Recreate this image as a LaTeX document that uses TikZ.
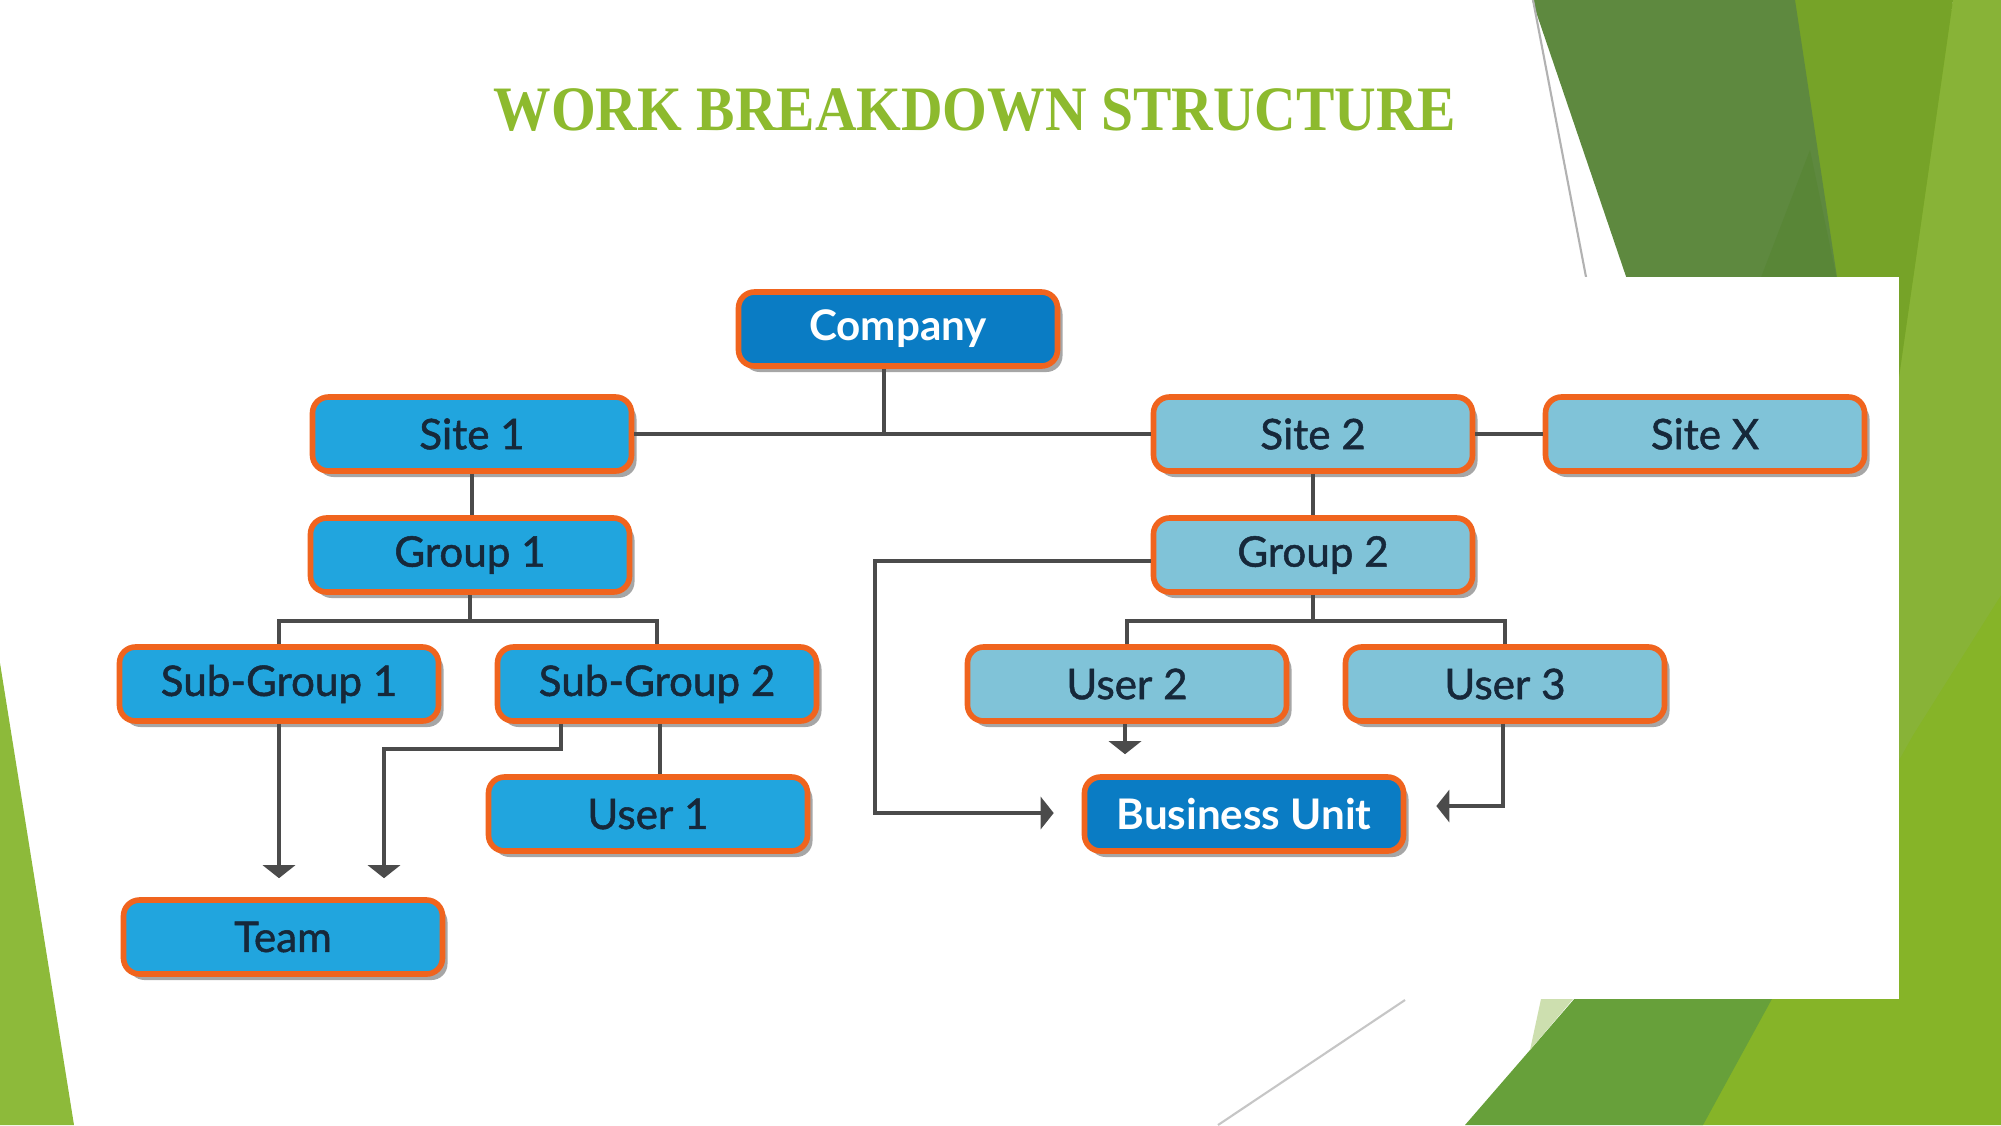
\documentclass[tikz,border=0pt]{standalone}
\usepackage{fontspec}
\setmainfont{Liberation Serif}
\newfontfamily\boxfont{Lato}[FakeBold=1.2]
\newfontfamily\boxfontbold{Lato Bold}
\usetikzlibrary{arrows.meta, positioning, shadows, calc}

\definecolor{wbsdark}{RGB}{10,124,196}
\definecolor{wbsmid}{RGB}{33,165,222}
\definecolor{wbspale}{RGB}{128,195,216}
\definecolor{wbsorange}{RGB}{240,100,30}
\definecolor{wbstext}{RGB}{22,40,58}
\definecolor{wbsline}{RGB}{75,75,75}
\definecolor{titlegreen}{RGB}{141,186,46}
\definecolor{leafdark}{RGB}{94,137,63}
\definecolor{leafdeep}{RGB}{89,134,55}
\definecolor{leafmid}{RGB}{118,163,40}
\definecolor{leafmuted}{RGB}{136,179,55}
\definecolor{leaflight}{RGB}{134,180,40}
\definecolor{leafgrass}{RGB}{103,160,58}
\definecolor{leafpale}{RGB}{205,223,175}
\definecolor{leafleft}{RGB}{141,186,58}

\begin{document}
\begin{tikzpicture}[x=1cm, y=-1cm,
    box/.style={draw=wbsorange, line width=1.6pt, rounded corners=0.16cm, minimum width=3.19cm, minimum height=0.74cm, inner sep=0pt, text=wbstext, font=\boxfont\fontsize{12}{14}\selectfont, drop shadow={shadow xshift=0.05cm, shadow yshift=-0.06cm, opacity=0.35, fill=black}},
    boxdark/.style={box, fill=wbsdark, text=white, font=\boxfontbold\fontsize{12}{14}\selectfont},
    boxmid/.style={box, fill=wbsmid},
    boxpale/.style={box, fill=wbspale},
    link/.style={draw=wbsline, line width=1pt},
    flow/.style={link, -{Triangle[width=0.32cm, length=0.13cm]}}]

\useasboundingbox (0,0) rectangle (20.01,11.25);
\fill[white] (0,0) rectangle (20.01,11.25);

% green facets of the slide
\fill[leaflight] (19.53,0) -- (20.01,0) -- (20.01,11.25) -- (16.9,11.25) -- (17.8,9.5) -- (18.9,3.5) -- cycle;
\fill[leafmuted] (18.99,3.77) -- (19.53,0) -- (20.01,0) -- (20.01,5.95) -- (19.13,7.35) -- (18.99,7.6) -- cycle;
\fill[leafmid] (17.9,0) -- (19.53,0) -- (18.99,3.77) -- (18.5,3.77) -- cycle;
\fill[leafdark] (15.32,0) -- (17.95,0) -- (18.48,3.5) -- (16.51,3.5) -- cycle;
\fill[leafdeep] (18.10,1.50) -- (18.37,2.80) -- (17.60,2.80) -- cycle;
\fill[leafgrass] (14.65,11.25) -- (15.95,9.75) -- (17.85,9.75) -- (17.03,11.25) -- cycle;
\fill[leafpale] (15.41,9.99) -- (15.73,9.99) -- (15.30,10.5) -- cycle;
\fill[leafleft] (0,6.63) -- (0.74,11.25) -- (0,11.25) -- cycle;
\draw[gray!45, line width=0.6pt] (12.18,11.25) -- (14.05,10.0);
\draw[gray!60, line width=0.6pt] (15.33,0) -- (15.86,2.77);

% pasted chart
\fill[white] (1.0,2.77) rectangle (18.99,9.99);

\node[font=\bfseries\fontsize{18}{22}\selectfont, text=titlegreen, xscale=0.91] (title) at (9.75,1.10) {WORK BREAKDOWN STRUCTURE};

\node[boxdark] (company) at (8.98,3.29) {Company};
\node[boxmid] (site1) at (4.72,4.34) {Site 1};
\node[boxpale] (site2) at (13.13,4.34) {Site 2};
\node[boxpale] (sitex) at (17.05,4.34) {Site X};
\node[boxmid] (group1) at (4.70,5.55) {Group 1};
\node[boxpale] (group2) at (13.13,5.55) {Group 2};
\node[boxmid] (subgroup1) at (2.79,6.84) {Sub-Group 1};
\node[boxmid] (subgroup2) at (6.57,6.84) {Sub-Group 2};
\node[boxpale] (user2) at (11.27,6.84) {User 2};
\node[boxpale] (user3) at (15.05,6.84) {User 3};
\node[boxmid] (user1) at (6.48,8.14) {User 1};
\node[boxdark] (busunit) at (12.44,8.14) {Business Unit};
\node[boxmid] (team) at (2.83,9.37) {Team};

\coordinate (hub) at (8.84,4.34);
\coordinate (bus1) at (4.70,6.21);
\coordinate (bus2) at (13.13,6.21);
\coordinate (loopleft) at (8.75,8.13);
\coordinate (sgright) at (5.61,7.49);
\coordinate (sgleft) at (3.84,7.49);

\draw[link] (site1) -- (site2);
\draw[link] (site2) -- (sitex);
\draw[link] (company.south -| hub) -- (hub);
\draw[link] (site1.south) -- (site1.south |- group1.north);
\draw[link] (site2) -- (group2);
\draw[link] (group1.south) -- (bus1);
\draw[link] (subgroup1.north) |- (bus1) -| (subgroup2.north);
\draw[link] (group2.south) -- (bus2);
\draw[link] (user2.north) |- (bus2) -| (user3.north);
\draw[link] ([xshift=0.03cm]subgroup2.south) -- ([xshift=0.03cm]subgroup2.south |- user1.north);

\draw[flow, shorten >=0.28cm] ([yshift=-0.06cm]group2.west) -| (loopleft) -- (loopleft -| busunit.west);
\draw[flow, shorten >=0.3cm] ([xshift=-0.02cm]user3.south) |- ([yshift=0.08cm]busunit.east);
\draw[flow, shorten >=0.2cm] ([xshift=-0.02cm]user2.south) -- ([xshift=-0.02cm]user2.south |- busunit.north);
\draw[flow, shorten >=0.19cm] (subgroup1.south) -- (subgroup1.south |- team.north);
\draw[flow, shorten >=0.19cm] (subgroup2.south -| sgright) |- (sgleft) -- (sgleft |- team.north);
\end{tikzpicture}
\end{document}
